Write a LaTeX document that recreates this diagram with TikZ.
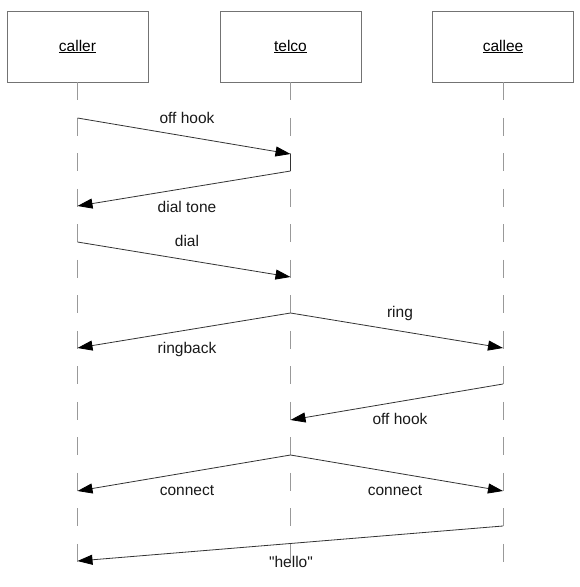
\documentclass[tikz,border=0pt]{standalone}
\usepackage{fontspec}
\setmainfont{Liberation Sans}[Ligatures=TeXOff]
\usetikzlibrary{arrows.meta}
\begin{document}
\begin{tikzpicture}[x=1pt,y=-1pt,
  obj/.style={draw=black!55,line width=0.9pt,minimum width=141pt,minimum height=71pt,inner sep=0pt,font=\fontsize{15.5}{18}\selectfont},
  life/.style={draw=black!40,line width=1pt,dash pattern=on 18pt off 17.5pt},
  msg/.style={draw=black!80,line width=0.8pt,-{Triangle[length=15pt,width=10pt,color=black]}},
  lbl/.style={font=\fontsize{15.5}{18}\selectfont,inner sep=0pt,text=black!90}]
\useasboundingbox (0,0) rectangle (580,587);
\fill[white] (0,0) rectangle (580,587);
% objects
\node[obj] (caller) at (77.5,46.5) {\underline{caller}};
\node[obj] (telco) at (290.5,46.5) {\underline{telco}};
\node[obj] (callee) at (503,46.5) {\underline{callee}};
% lifeline ends
\coordinate (callerEnd) at (77.5,562);
\coordinate (telcoEnd) at (290.5,562);
\coordinate (calleeEnd) at (503,562);
\draw[life] (caller.south) -- (callerEnd);
\draw[life] (telco.south) -- (telcoEnd);
\draw[life] (callee.south) -- (calleeEnd);
% message points
\coordinate (a1) at (77.5,118);  \coordinate (b1) at (290.5,154);
\coordinate (a2) at (290.5,171); \coordinate (b2) at (77.5,206);
\coordinate (a3) at (77.5,242);  \coordinate (b3) at (290.5,277);
\coordinate (a4) at (290.5,313); \coordinate (b4) at (77.5,348);
\coordinate (b5) at (503,348);
\coordinate (a6) at (503,384);   \coordinate (b6) at (290.5,420);
\coordinate (a7) at (290.5,455); \coordinate (b7) at (77.5,491);
\coordinate (b8) at (503,491);
\coordinate (a9) at (503,526);   \coordinate (b9) at (77.5,561);
\draw[msg] (a1) -- (b1);
\draw[draw=black!80,line width=0.8pt] (b1) -- (a2);
\draw[msg] (a2) -- (b2);
\draw[msg] (a3) -- (b3);
\draw[msg] (a4) -- (b4);
\draw[msg] (a4) -- (b5);
\draw[msg] (a6) -- (b6);
\draw[msg] (a7) -- (b7);
\draw[msg] (a7) -- (b8);
\draw[msg] (a9) -- (b9);
% labels
\node[lbl] (l1) at (187,118) {off hook};
\node[lbl] (l2) at (187,207) {dial tone};
\node[lbl] (l3) at (187,241) {dial};
\node[lbl] (l4) at (187,349) {ringback};
\node[lbl] (l5) at (400,313) {ring};
\node[lbl] (l6) at (400,419) {off hook};
\node[lbl] (l7) at (187,491) {connect};
\node[lbl] (l8) at (395,491) {connect};
\node[lbl] (l9) at (291,562) {"hello"};
\end{tikzpicture}
\end{document}
